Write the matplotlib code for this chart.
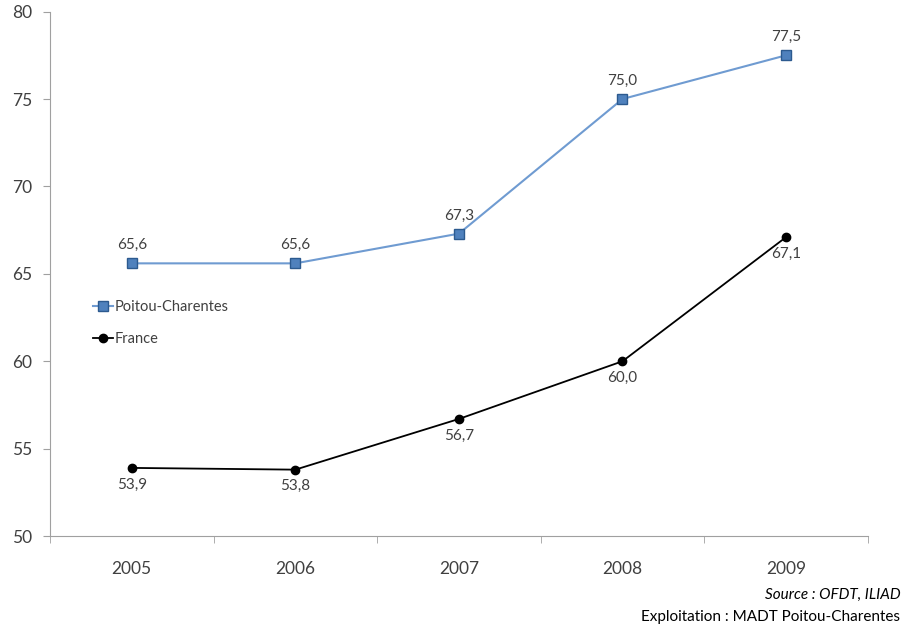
import matplotlib
matplotlib.use('Agg')
import matplotlib.pyplot as plt

years = ["2005", "2006", "2007", "2008", "2009"]
poitou = [65.6, 65.6, 67.3, 75.0, 77.5]
france = [53.9, 53.8, 56.7, 60.0, 67.1]
yticks = [50, 55, 60, 65, 70, 75, 80]

plt.rcParams['font.family'] = ['Lato', 'DejaVu Sans']

fig = plt.figure(figsize=(9.04, 6.27), dpi=100)
ax = fig.add_axes([0.0553, 0.145, 0.9047, 0.8365])

x = range(len(years))
ax.plot(x, poitou, color="#6f9bd1", lw=1.5, marker="s", ms=7,
        mfc="#4f81bd", mec="#2c5a8f", mew=1, label="Poitou-Charentes", zorder=3)
ax.plot(x, france, color="#000000", lw=1.3, marker="o", ms=6,
        mfc="#000000", mec="#000000", label="France", zorder=3)

for i, v in enumerate(poitou):
    ax.annotate(f"{v:.1f}".replace(".", ","), (i, v), xytext=(0, 8),
                textcoords="offset points", ha="center", va="bottom",
                fontsize=11, color="#404040")
for i, v in enumerate(france):
    ax.annotate(f"{v:.1f}".replace(".", ","), (i, v), xytext=(0, -7),
                textcoords="offset points", ha="center", va="top",
                fontsize=11, color="#404040")

ax.set_xlim(-0.5, len(years) - 0.5)
ax.set_ylim(50, 80)
ax.set_yticks(yticks)
ax.set_xticks(x)
ax.set_xticklabels(years)
ax.set_xticks([i - 0.5 for i in range(len(years) + 1)], minor=True)
ax.tick_params(axis="x", which="major", length=0, pad=18, labelsize=12.5, colors="#404040")
ax.tick_params(axis="x", which="minor", length=5, color="#a0a0a0", direction="out")
ax.tick_params(axis="y", length=5, color="#a0a0a0", labelsize=12.5, labelcolor="#404040", pad=8)

for s in ["top", "right"]:
    ax.spines[s].set_visible(False)
for s in ["left", "bottom"]:
    ax.spines[s].set_color("#a0a0a0")

ax.legend(loc="upper left", bbox_to_anchor=(0.045, 0.462), frameon=False,
          fontsize=10.5, handlelength=1.4, handletextpad=0.1, labelspacing=1.25,
          labelcolor="#404040", borderaxespad=0)

fig.text(0.996, 0.045, "Source : OFDT, ILIAD", ha="right", va="baseline",
         fontsize=11, style="italic", color="#000000")
fig.text(0.996, 0.009, "Exploitation : MADT Poitou-Charentes", ha="right",
         va="baseline", fontsize=11, color="#000000")

fig.savefig("out.png", dpi=100)
